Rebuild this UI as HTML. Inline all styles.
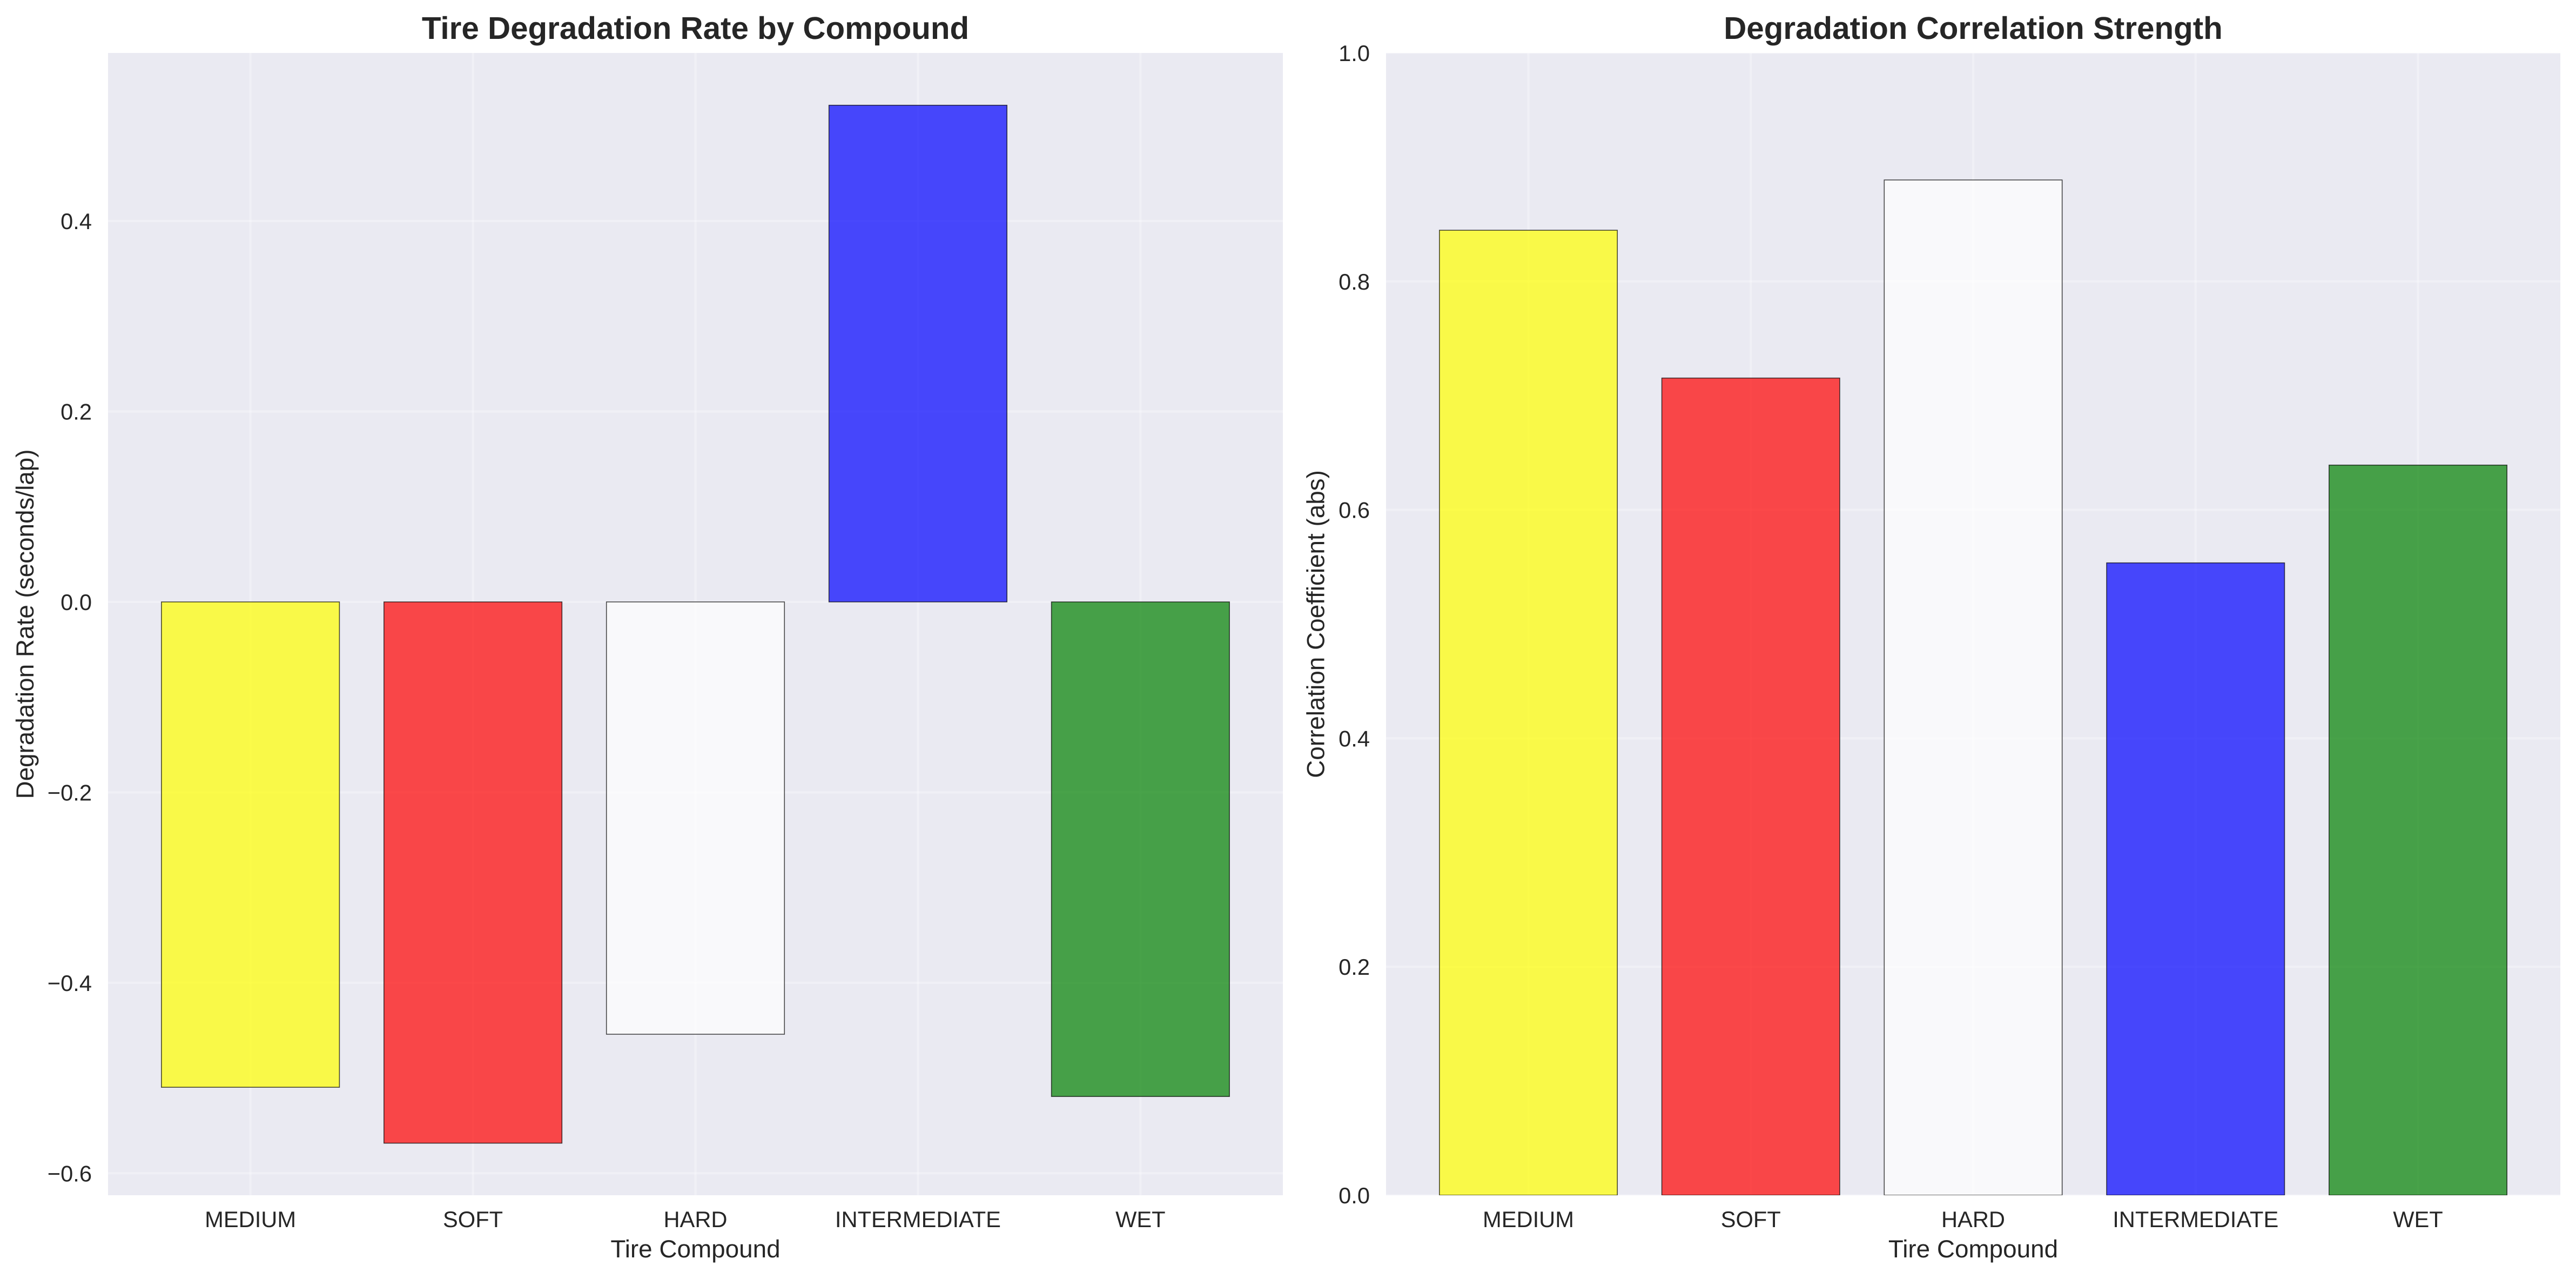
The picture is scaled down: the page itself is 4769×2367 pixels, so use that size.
<!DOCTYPE html>
<html lang="en">
<head>
<meta charset="utf-8">
<title>Tire Degradation Charts</title>
<style>
  html, body { margin: 0; padding: 0; background: #ffffff; }
  svg { display: block; }
  text { font-family: "Liberation Sans", Arial, sans-serif; fill: #262626; text-rendering: geometricPrecision; }
  .tick { font-size: 41.67px; }
  .axis-label { font-size: 45.83px; }
  .title { font-size: 58.33px; font-weight: bold; }
</style>
</head>
<body>
<svg id="figure" xmlns="http://www.w3.org/2000/svg" width="4769" height="2367" viewBox="0 0 4769 2367">
  <defs>
    <clipPath id="clip-left"><rect x="200" y="98" width="2175" height="2114"/></clipPath>
    <clipPath id="clip-right"><rect x="2566" y="98" width="2174" height="2114"/></clipPath>
  </defs>
  <rect x="0" y="0" width="4769" height="2367" fill="#ffffff"/>

  <g id="panel-left">
    <rect x="200" y="98" width="2175" height="2114" fill="#eaeaf2"/>
    <g id="grid-left" clip-path="url(#clip-left)"></g>
    <g id="bars-left" clip-path="url(#clip-left)"></g>
    <g id="yticks-left"></g>
    <g id="xticks-left"></g>
    <text class="title" x="1287.5" y="72" text-anchor="middle">Tire Degradation Rate by Compound</text>
    <text class="axis-label" x="1287.5" y="2327" text-anchor="middle">Tire Compound</text>
    <text class="axis-label" x="0" y="0" text-anchor="middle" transform="translate(62 1155) rotate(-90)">Degradation Rate (seconds/lap)</text>
  </g>

  <g id="panel-right">
    <rect x="2566" y="98" width="2174" height="2114" fill="#eaeaf2"/>
    <g id="grid-right" clip-path="url(#clip-right)"></g>
    <g id="bars-right" clip-path="url(#clip-right)"></g>
    <g id="yticks-right"></g>
    <g id="xticks-right"></g>
    <text class="title" x="3653" y="72" text-anchor="middle">Degradation Correlation Strength</text>
    <text class="axis-label" x="3653" y="2327" text-anchor="middle">Tire Compound</text>
    <text class="axis-label" x="0" y="0" text-anchor="middle" transform="translate(2451.7 1155) rotate(-90)">Correlation Coefficient (abs)</text>
  </g>
</svg>

<script>
const categories = ["MEDIUM", "SOFT", "HARD", "INTERMEDIATE", "WET"];
const barColors = ["yellow", "red", "white", "blue", "green"];
const degradationRates = [-0.5097, -0.5684, -0.4540, 0.5216, -0.5194];
const correlationStrengths = [0.8448, 0.7154, 0.8888, 0.5536, 0.6392];
const rateTicks = [-0.6, -0.4, -0.2, 0.0, 0.2, 0.4];
const rateTickLabels = ["\u22120.6", "\u22120.4", "\u22120.2", "0.0", "0.2", "0.4"];
const correlationTicks = [0.0, 0.2, 0.4, 0.6, 0.8, 1.0];
const correlationTickLabels = ["0.0", "0.2", "0.4", "0.6", "0.8", "1.0"];

const SVG_NS = "http://www.w3.org/2000/svg";
const BAR_WIDTH = 0.8;
const X_DOMAIN = [-0.64, 4.64];
const RATE_DOMAIN = [-0.6231, 0.5765];
const CORRELATION_DOMAIN = [0, 1];

function linearScale(domain, range) {
  return function (v) {
    return range[0] + (v - domain[0]) / (domain[1] - domain[0]) * (range[1] - range[0]);
  };
}

function shape(tag, parent, props) {
  const el = document.createElementNS(SVG_NS, tag);
  for (const key in props) {
    el.setAttribute(key, props[key]);
  }
  parent.appendChild(el);
  return el;
}

function drawPanel(side, prefix, left, right, yDomain, values, ticks, tickLabels, labelX) {
  const xAxis = linearScale(X_DOMAIN, [left, right]);
  const yAxis = linearScale(yDomain, [2212, 98]);
  const grid = document.getElementById("grid-" + side);
  const bars = document.getElementById("bars-" + side);
  const yTickGroup = document.getElementById("yticks-" + side);
  const xTickGroup = document.getElementById("xticks-" + side);

  ticks.forEach(function (tick, i) {
    const py = yAxis(tick);
    const line = shape("line", grid, { x1: left, x2: right, y1: py, y2: py, stroke: "#ffffff", "stroke-opacity": 0.3, "stroke-width": 4.17 });
    
    
    const label = shape("text", yTickGroup, { class: "tick", x: labelX, y: py + 15, "text-anchor": "end" });
    label.textContent = tickLabels[i];
    
    
  });

  categories.forEach(function (category, i) {
    const px = xAxis(i);
    const line = shape("line", grid, { x1: px, x2: px, y1: 98, y2: 2212, stroke: "#ffffff", "stroke-opacity": 0.3, "stroke-width": 4.17 });
    
    

    const x0 = xAxis(i - BAR_WIDTH / 2);
    const x1 = xAxis(i + BAR_WIDTH / 2);
    const yBase = yAxis(0);
    const yValue = yAxis(values[i]);
    const bar = shape("rect", bars, {
      x: x0,
      y: Math.min(yBase, yValue),
      width: x1 - x0,
      height: Math.abs(yValue - yBase),
      fill: barColors[i],
      "fill-opacity": 0.7,
      stroke: "#000000",
      "stroke-opacity": 0.7,
      "stroke-width": 1.6
    });
    
    

    const label = shape("text", xTickGroup, { class: "tick", x: px, y: 2271, "text-anchor": "middle" });
    label.textContent = category;
    
    
  });
}

drawPanel("left", "degradation-rate", 200, 2375, RATE_DOMAIN, degradationRates, rateTicks, rateTickLabels, 170);
drawPanel("right", "correlation", 2566, 4740, CORRELATION_DOMAIN, correlationStrengths, correlationTicks, correlationTickLabels, 2536);
</script>
</body>
</html>
